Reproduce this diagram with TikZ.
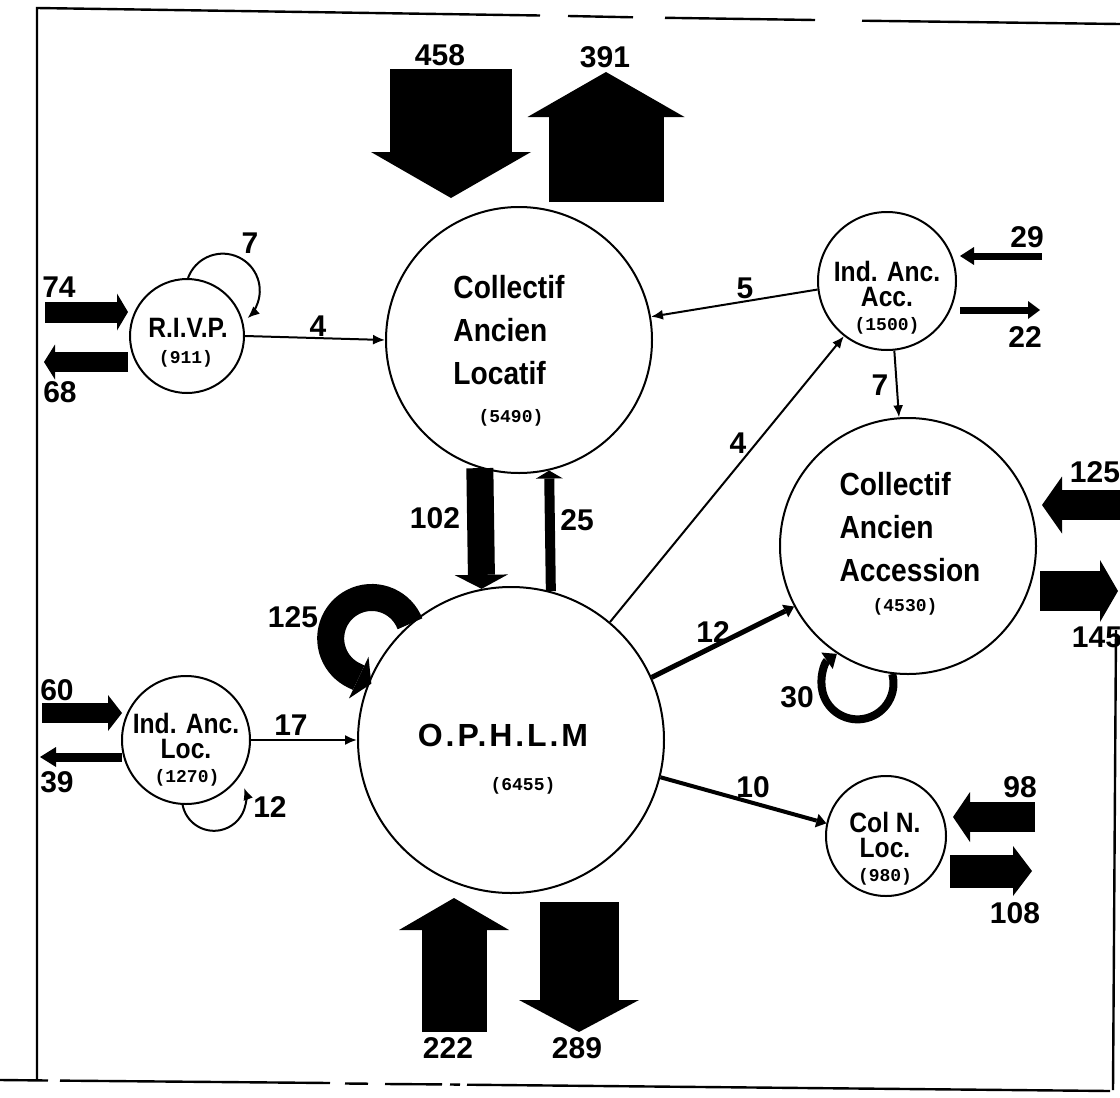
\documentclass[tikz,border=0pt]{standalone}
\usepackage{fontspec}
\setmainfont{Liberation Sans}
\newfontfamily\labfont[FakeStretch=0.88]{Liberation Sans}
\newfontfamily\popfont{Liberation Mono}
\usetikzlibrary{arrows.meta}
\tikzset{%
  zone/.style    = {shape=circle, draw, line width=1pt, inner sep=0pt},%
  bigname/.style = {align=left, font=\labfont\bfseries\fontsize{16}{21.5}\selectfont},%
  abbr/.style    = {align=center, font=\labfont\bfseries\fontsize{14}{12.5}\selectfont},%
  pop/.style     = {font=\popfont\bfseries\fontsize{9}{10}\selectfont},%
  qty/.style     = {font=\bfseries\fontsize{15}{15}\selectfont},%
  link/.style    = {line width=1pt, -{Latex[length=6pt,width=5pt]}},%
  flow/.style n args = {3}{line width=#1, -{Triangle[width=#2,length=#3,line width=0pt]}},%
  rim/.style     = {line width=1.2pt}%
}
\begin{document}
\begin{tikzpicture}[x=0.5pt, y=-0.5pt, every node/.style={inner sep=0pt}]
\useasboundingbox (0,0) rectangle (1120,1098);
% frame
\draw[rim] (37,1080) -- (37,8) -- (540,15.5) (568,16) -- (633,17.3) (665,17.8) -- (815,20) (862,20.7) -- (1120,24);
\draw[rim] (0,1080) -- (48,1080.5) (60,1080.6) -- (330,1083) (345,1083.5) -- (368,1083.7) (385,1084) -- (442,1084.4)
  (450,1084.5) -- (460,1084.6) (467,1084.7) -- (1110,1091);
\draw[rim] (1116,630) -- (1113,1090);

% zones
\node[zone, minimum size=57pt]  (rivp)  at (187,336) {};
\node[zone, minimum size=133pt] (cal)   at (519,340) {};
\node[zone, minimum size=69pt]  (iaa)   at (887,281) {};
\node[zone, minimum size=128pt] (caa)   at (908,546) {};
\node[zone, minimum size=153pt] (ophlm) at (511,740) {};
\node[zone, minimum size=64pt]  (ial)   at (186,740) {};
\node[zone, minimum size=60pt]  (cnl)   at (886,836) {};

\node[bigname] (cal-t) at (509,330) {Collectif\\Ancien\\Locatif};
\node[pop] (cal-p) at (511,418) {(5490)};
\node[bigname] (caa-t) at (910,527) {Collectif\\Ancien\\Accession};
\node[pop] (caa-p) at (905,607) {(4530)};
\node[font=\bfseries\fontsize{16}{16}\selectfont] (ophlm-t) at (503,735) {\addfontfeature{LetterSpace=9}O.P.H.L.M};
\node[pop] (ophlm-p) at (523,786) {(6455)};
\node[abbr] (rivp-t) at (188,328) {R.I.V.P.};
\node[pop] (rivp-p) at (186,359) {(911)};
\node[abbr] (iaa-t) at (887,284) {Ind. Anc.\\Acc.};
\node[pop] (iaa-p) at (887,326) {(1500)};
\node[abbr] (ial-t) at (186,736) {Ind. Anc.\\Loc.};
\node[pop] (ial-p) at (187,778) {(1270)};
\node[abbr] (cnl-t) at (885,835) {Col N.\\Loc.};
\node[pop] (cnl-p) at (885,877) {(980)};

% moves between zones
\draw[link] (rivp.east) -- (cal.180);
\draw[link] (iaa.187) -- (cal.10);
\draw[link] (ophlm.50) -- (iaa.232);
\draw[link] (iaa.276) -- (caa.94);
\draw[link] (ial.east) -- (ophlm.west);
\draw[flow={13.5pt}{26.5pt}{7pt}] (cal.253) -- (ophlm.101);
\draw[flow={5pt}{13.5pt}{4pt}] (ophlm.75) -- (cal.283);
\draw[flow={2.5pt}{7pt}{5pt}] (ophlm.24) -- (caa.208);
\draw[flow={2pt}{7pt}{5pt}] (ophlm.-14) -- (cnl.168);
\draw[link] (rivp.89) arc[start angle=-160, end angle=48, radius=37];
\draw[link] (ial.267) arc[start angle=169, end angle=-20, radius=32];
\draw[flow={13.5pt}{23pt}{7pt}] (ophlm.131) arc[start angle=-21, end angle=-245, radius=41] -- ++(17,8);
\draw[flow={4pt}{10pt}{6pt}] (caa.263) arc[start angle=-15, end angle=235, radius=36];

% flows in and out
\coordinate (f458s) at (451,69);   \coordinate (f458e) at (451,198);
\coordinate (f391s) at (606,202);  \coordinate (f391e) at (606,72);
\coordinate (f222s) at (454,1032); \coordinate (f222e) at (454,898);
\coordinate (f289s) at (579,902);  \coordinate (f289e) at (579,1032);
\coordinate (f74s) at (45,312);    \coordinate (f74e) at (128,312);
\coordinate (f68s) at (128,362);   \coordinate (f68e) at (44,362);
\coordinate (f60s) at (42,713);    \coordinate (f60e) at (122,713);
\coordinate (f39s) at (122,757);   \coordinate (f39e) at (40,757);
\coordinate (f29s) at (1042,256);  \coordinate (f29e) at (960,256);
\coordinate (f22s) at (960,310);   \coordinate (f22e) at (1040,310);
\coordinate (f125s) at (1122,505); \coordinate (f125e) at (1042,505);
\coordinate (f145s) at (1040,591); \coordinate (f145e) at (1118,591);
\coordinate (f98s) at (1035,817);  \coordinate (f98e) at (953,817);
\coordinate (f108s) at (950,871);  \coordinate (f108e) at (1032,871);
\draw[flow={61pt}{80pt}{23pt}] (f458s) -- (f458e);
\draw[flow={57.5pt}{78.5pt}{22.5pt}] (f391s) -- (f391e);
\draw[flow={32.5pt}{55pt}{16pt}] (f222s) -- (f222e);
\draw[flow={39.5pt}{60pt}{16pt}] (f289s) -- (f289e);
\draw[flow={10.5pt}{18.5pt}{5.5pt}] (f74s) -- (f74e);
\draw[flow={10pt}{17.5pt}{5.5pt}] (f68s) -- (f68e);
\draw[flow={10pt}{18pt}{7pt}] (f60s) -- (f60e);
\draw[flow={4.5pt}{10pt}{8pt}] (f39s) -- (f39e);
\draw[flow={3.5pt}{9pt}{7pt}] (f29s) -- (f29e);
\draw[flow={3.5pt}{9pt}{6pt}] (f22s) -- (f22e);
\draw[flow={15pt}{28.5pt}{10pt}] (f125s) -- (f125e);
\draw[flow={20pt}{31pt}{9pt}] (f145s) -- (f145e);
\draw[flow={15pt}{25pt}{8.5pt}] (f98s) -- (f98e);
\draw[flow={16.5pt}{25pt}{9.5pt}] (f108s) -- (f108e);

% numbers
\node[qty] (n458) at (440,55) {458};
\node[qty] (n391) at (605,57) {391};
\node[qty] (n222) at (448,1048) {222};
\node[qty] (n289) at (577,1048) {289};
\node[qty] (n74) at (59,287) {74};
\node[qty] (n68) at (60,392) {68};
\node[qty] (n60) at (57,690) {60};
\node[qty] (n39) at (57,782) {39};
\node[qty] (n29) at (1027,237) {29};
\node[qty] (n22) at (1025,337) {22};
\node[qty] (n125r) at (1095,472) {125};
\node[qty] (n145) at (1097,637) {145};
\node[qty] (n98) at (1020,787) {98};
\node[qty] (n108) at (1015,913) {108};
\node[qty] (n7a) at (250,243) {7};
\node[qty] (n4a) at (318,326) {4};
\node[qty] (n5) at (745,288) {5};
\node[qty] (n4b) at (738,443) {4};
\node[qty] (n7b) at (880,385) {7};
\node[qty] (n102) at (435,518) {102};
\node[qty] (n25) at (577,520) {25};
\node[qty] (n125l) at (293,617) {125};
\node[qty] (n17) at (291,725) {17};
\node[qty] (n12a) at (270,807) {12};
\node[qty] (n12b) at (713,632) {12};
\node[qty] (n10) at (753,787) {10};
\node[qty] (n30) at (797,697) {30};
\end{tikzpicture}
\end{document}
